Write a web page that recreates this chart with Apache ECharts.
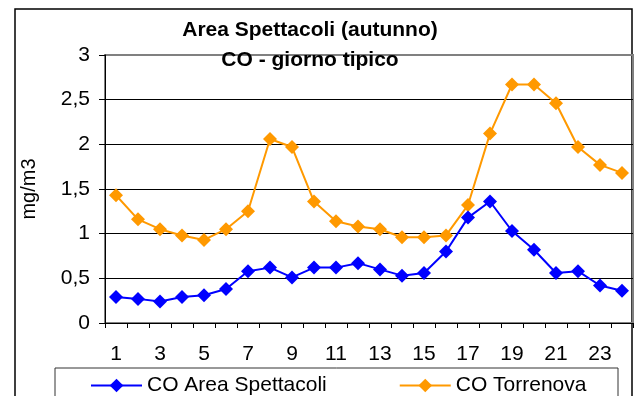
<!DOCTYPE html>
<html>
<head>
<meta charset="utf-8">
<script src="https://cdn.jsdelivr.net/npm/echarts@6/dist/echarts.min.js"></script>
<style>
  html, body { margin: 0; padding: 0; background: #fff; }
  #chart { width: 635px; height: 396px; }
</style>
</head>
<body>
<div id="chart"></div>
<script>
// ore del giorno
var hours = ['1','2','3','4','5','6','7','8','9','10','11','12','13','14','15','16','17','18','19','20','21','22','23','24'];
// CO medio orario (mg/m3)
var areaSpettacoli = [0.29, 0.27, 0.24, 0.29, 0.31, 0.38, 0.58, 0.62, 0.51, 0.62, 0.62, 0.67, 0.60, 0.53, 0.56, 0.80, 1.18, 1.36, 1.03, 0.82, 0.56, 0.58, 0.42, 0.36];
var torrenova = [1.43, 1.16, 1.05, 0.98, 0.93, 1.05, 1.25, 2.06, 1.97, 1.36, 1.14, 1.08, 1.05, 0.96, 0.96, 0.98, 1.32, 2.12, 2.67, 2.67, 2.46, 1.97, 1.77, 1.68];
var seriesNames = ['CO Area Spettacoli', 'CO Torrenova'];

var fontFam = 'Liberation Sans, Arial, sans-serif';
var colors = ['#0000FF', '#FF9900'];

var myChart = echarts.init(document.getElementById('chart'));
var option = {
    backgroundColor: '#FFFFFF',
    animation: false,
    color: colors,
    title: {
        text: 'Area Spettacoli (autunno)\nCO - giorno tipico',
        left: 310,
        textAlign: 'center',
        top: 15,
        padding: 0,
        textStyle: {
            fontFamily: fontFam,
            fontSize: 21,
            fontWeight: 'bold',
            color: '#000',
            lineHeight: 30
        }
    },
    grid: {
        left: 105,
        top: 55,
        right: 2,
        bottom: 73,
        show: true,
        borderColor: '#808080',
        borderWidth: 2,
        backgroundColor: 'transparent'
    },
    legend: {
        left: 90,
        top: 375,
        padding: 0,
        itemWidth: 51,
        itemHeight: 17,
        itemGap: 72,
        textStyle: { fontFamily: fontFam, fontSize: 21, color: '#000' },
        data: seriesNames
    },
    graphic: [
        {
            type: 'rect',
            shape: { x: 15, y: 9, width: 617, height: 400 },
            style: { fill: 'none', stroke: '#000', lineWidth: 1.5 },
            silent: true,
            z: -1
        },
        {
            type: 'rect',
            shape: { x: 55, y: 368, width: 563, height: 40 },
            style: { fill: '#fff', stroke: '#333', lineWidth: 1 },
            silent: true,
            z: 0
        }
    ],
    xAxis: {
        type: 'category',
        boundaryGap: true,
        data: hours,
        axisLine: { lineStyle: { color: '#000', width: 1 } },
        axisTick: { show: true, interval: 0, length: 5, lineStyle: { color: '#000' } },
        axisLabel: {
            interval: 1,
            margin: 21,
            fontFamily: fontFam,
            fontSize: 21,
            color: '#000'
        },
        splitLine: { show: false }
    },
    yAxis: {
        type: 'value',
        min: 0,
        max: 3,
        interval: 0.5,
        name: 'mg/m3',
        nameLocation: 'middle',
        nameRotate: 90,
        nameGap: 66,
        nameTextStyle: { fontFamily: fontFam, fontSize: 20, color: '#000' },
        axisLine: { show: true, lineStyle: { color: '#000', width: 1 } },
        axisTick: { show: true, length: 6, lineStyle: { color: '#000' } },
        axisLabel: {
            margin: 15,
            fontFamily: fontFam,
            fontSize: 21,
            color: '#000',
            formatter: function (v) { return String(v).replace('.', ','); }
        },
        splitLine: {
            show: true,
            lineStyle: { color: ['#000', '#000', '#000', '#000', '#000', '#000', '#808080'], width: 1 }
        }
    },
    series: [
        {
            name: seriesNames[0],
            type: 'line',
            data: areaSpettacoli,
            symbol: 'diamond',
            symbolSize: 14,
            lineStyle: { width: 2, color: colors[0] },
            itemStyle: { color: colors[0] },
            z: 3
        },
        {
            name: seriesNames[1],
            type: 'line',
            data: torrenova,
            symbol: 'diamond',
            symbolSize: 14,
            lineStyle: { width: 2, color: colors[1] },
            itemStyle: { color: colors[1] },
            z: 2
        }
    ]
};

if (option && typeof option === 'object') {
    myChart.setOption(option);
}
</script>
</body>
</html>
